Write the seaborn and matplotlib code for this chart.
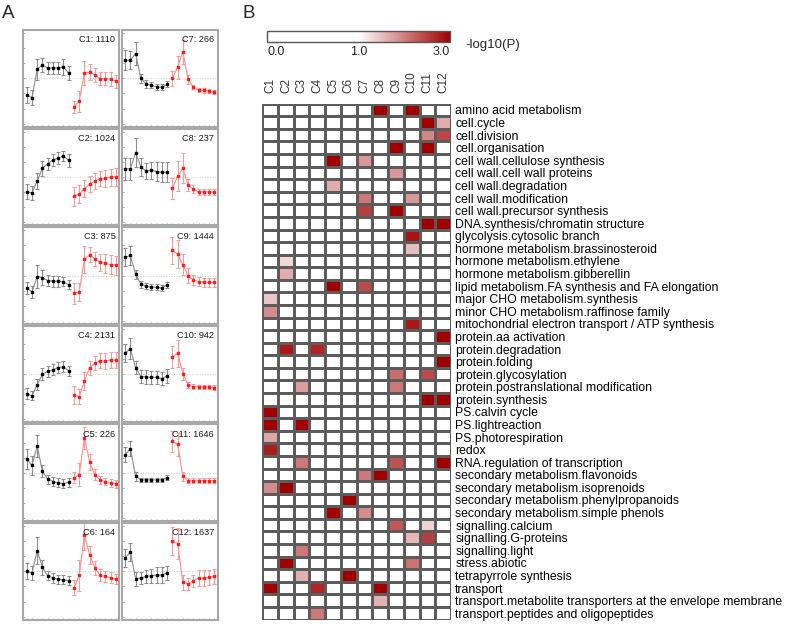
import numpy as np
import pandas as pd
import matplotlib
matplotlib.use("Agg")
import matplotlib.pyplot as plt
from matplotlib.colors import LinearSegmentedColormap, TwoSlopeNorm
import seaborn as sns

# ---- panel A: cluster expression profiles ----
clusters = ["C1", "C2", "C3", "C4", "C5", "C6", "C7", "C8", "C9", "C10", "C11", "C12"]
cluster_sizes = [1110, 1024, 875, 2131, 226, 164, 266, 237, 1444, 942, 1646, 1637]
time_black = [1, 2, 3, 4, 5, 6, 7, 8, 9]
time_red = [10, 11, 12, 13, 14, 15, 16, 17, 18]

black_mean = [
    [-1.1, -1.27, 0.6, 0.89, 0.67, 0.69, 0.69, 0.75, 0.35],
    [-0.98, -1.07, -0.27, 0.58, 0.87, 1.13, 1.24, 1.4, 1.09],
    [-0.84, -1.07, -0.07, -0.13, -0.33, -0.38, -0.38, -0.42, -0.6],
    [-1.29, -1.44, -0.69, 0.0, 0.18, 0.29, 0.44, 0.49, 0.22],
    [0.89, 0.49, 1.76, 0.09, -0.42, -0.58, -0.67, -0.73, -0.62],
    [0.02, -0.11, 1.36, 0.27, -0.29, -0.44, -0.53, -0.56, -0.62],
    [1.2, 1.2, 1.64, 0.0, -0.36, -0.47, -0.56, -0.58, -0.4],
    [0.53, 0.53, 1.6, 0.67, 0.4, 0.44, 0.36, 0.31, 0.31],
    [1.2, 1.33, 0.09, -0.58, -0.71, -0.76, -0.78, -0.82, -0.62],
    [1.4, 1.67, 0.44, -0.16, -0.18, -0.22, -0.22, -0.29, -0.11],
    [1.2, 1.6, -0.22, -0.47, -0.47, -0.47, -0.47, -0.47, -0.33],
    [0.87, 1.29, -0.49, -0.44, -0.33, -0.29, -0.24, -0.24, -0.11],
]
black_sd = [
    [0.55, 0.52, 0.7, 0.47, 0.38, 0.4, 0.4, 0.5, 0.45],
    [0.5, 0.45, 0.5, 0.5, 0.4, 0.4, 0.4, 0.35, 0.45],
    [0.4, 0.4, 0.75, 0.5, 0.35, 0.35, 0.35, 0.3, 0.3],
    [0.35, 0.3, 0.35, 0.4, 0.35, 0.35, 0.35, 0.35, 0.35],
    [0.65, 0.65, 0.75, 0.4, 0.3, 0.3, 0.3, 0.3, 0.3],
    [0.5, 0.45, 0.9, 0.5, 0.3, 0.3, 0.3, 0.3, 0.3],
    [0.65, 0.6, 0.75, 0.3, 0.25, 0.2, 0.2, 0.2, 0.2],
    [0.75, 0.75, 0.95, 0.6, 0.55, 0.55, 0.6, 0.65, 0.65],
    [0.6, 0.65, 0.3, 0.25, 0.2, 0.2, 0.2, 0.2, 0.2],
    [0.6, 0.7, 0.45, 0.45, 0.45, 0.45, 0.45, 0.45, 0.45],
    [0.5, 0.5, 0.3, 0.15, 0.15, 0.15, 0.15, 0.15, 0.15],
    [0.6, 0.6, 0.45, 0.4, 0.45, 0.45, 0.5, 0.5, 0.45],
]
red_mean = [
    [-1.89, -1.51, 0.35, 0.42, 0.22, -0.02, -0.02, -0.06, -0.2],
    [-1.29, -1.13, -0.78, -0.47, -0.27, -0.11, -0.09, -0.02, 0.0],
    [-1.16, -1.07, 1.07, 1.38, 1.11, 0.87, 0.8, 0.73, 0.67],
    [-1.4, -1.49, -0.44, 0.42, 0.73, 0.89, 0.87, 0.93, 0.93],
    [-0.33, -0.13, 2.31, 0.71, -0.13, -0.47, -0.58, -0.67, -0.73],
    [-1.09, -0.27, 2.42, 1.07, 0.24, -0.27, -0.33, -0.42, -0.51],
    [0.0, 0.73, 1.76, -0.07, -0.56, -0.78, -0.8, -0.84, -0.91],
    [-0.76, 0.04, 0.58, -0.51, -0.8, -0.98, -0.98, -0.98, -1.02],
    [1.67, 1.42, 0.71, -0.02, -0.29, -0.4, -0.44, -0.44, -0.44],
    [1.13, 1.38, 0.04, -0.71, -0.82, -0.84, -0.84, -0.84, -0.89],
    [2.09, 1.87, -0.22, -0.53, -0.53, -0.53, -0.53, -0.53, -0.53],
    [2.0, 1.84, -0.71, -0.82, -0.64, -0.44, -0.44, -0.4, -0.33],
]
red_sd = [
    [0.41, 0.69, 0.78, 0.52, 0.44, 0.45, 0.45, 0.45, 0.45],
    [0.6, 0.6, 0.55, 0.5, 0.5, 0.5, 0.55, 0.55, 0.6],
    [0.7, 0.6, 0.9, 0.5, 0.45, 0.55, 0.6, 0.65, 0.65],
    [0.6, 0.5, 0.6, 0.45, 0.45, 0.5, 0.5, 0.55, 0.55],
    [0.35, 0.75, 0.75, 0.5, 0.35, 0.25, 0.25, 0.25, 0.25],
    [0.5, 1.0, 1.0, 0.6, 0.45, 0.4, 0.35, 0.35, 0.35],
    [0.5, 0.75, 0.8, 0.3, 0.15, 0.15, 0.15, 0.15, 0.15],
    [0.7, 1.0, 1.0, 0.4, 0.25, 0.2, 0.2, 0.2, 0.2],
    [0.9, 0.9, 0.7, 0.5, 0.35, 0.3, 0.3, 0.3, 0.3],
    [0.7, 0.9, 0.4, 0.2, 0.15, 0.15, 0.15, 0.15, 0.15],
    [0.7, 0.75, 0.3, 0.15, 0.15, 0.15, 0.15, 0.15, 0.15],
    [0.95, 1.0, 0.5, 0.4, 0.4, 0.5, 0.5, 0.5, 0.5],
]

# ---- panel B: enrichment -log10(P) per pathway and cluster ----
pathways = [
    "amino acid metabolism", "cell.cycle", "cell.division", "cell.organisation",
    "cell wall.cellulose synthesis", "cell wall.cell wall proteins",
    "cell wall.degradation", "cell wall.modification", "cell wall.precursor synthesis",
    "DNA.synthesis/chromatin structure", "glycolysis.cytosolic branch",
    "hormone metabolism.brassinosteroid", "hormone metabolism.ethylene",
    "hormone metabolism.gibberellin", "lipid metabolism.FA synthesis and FA elongation",
    "major CHO metabolism.synthesis", "minor CHO metabolism.raffinose family",
    "mitochondrial electron transport / ATP synthesis", "protein.aa activation",
    "protein.degradation", "protein.folding", "protein.glycosylation",
    "protein.postranslational modification", "protein.synthesis", "PS.calvin cycle",
    "PS.lightreaction", "PS.photorespiration", "redox", "RNA.regulation of transcription",
    "secondary metabolism.flavonoids", "secondary metabolism.isoprenoids",
    "secondary metabolism.phenylpropanoids", "secondary metabolism.simple phenols",
    "signalling.calcium", "signalling.G-proteins", "signalling.light", "stress.abiotic",
    "tetrapyrrole synthesis", "transport",
    "transport.metabolite transporters at the envelope membrane",
    "transport.peptides and oligopeptides",
]
#        C1    C2    C3    C4    C5    C6    C7    C8    C9    C10   C11   C12
logp = [
    [0,    0,    0,    0,    0,    0,    0,    3.0,  0,    3.0,  0,    0],
    [0,    0,    0,    0,    0,    0,    0,    0,    0,    0,    3.0,  1.65],
    [0,    0,    0,    0,    0,    0,    0,    0,    0,    0,    1.95, 2.45],
    [0,    0,    0,    0,    0,    0,    0,    0,    3.0,  0,    3.0,  0],
    [0,    0,    0,    0,    3.0,  0,    1.8,  0,    0,    0,    0,    0],
    [0,    0,    0,    0,    0,    0,    0,    0,    1.8,  0,    0,    0],
    [0,    0,    0,    0,    1.65, 0,    0,    0,    0,    0,    0,    0],
    [0,    0,    0,    0,    0,    0,    2.05, 0,    0,    1.8,  0,    0],
    [0,    0,    0,    0,    0,    0,    2.5,  0,    3.0,  0,    0,    0],
    [0,    0,    0,    0,    0,    0,    0,    0,    0,    0,    3.0,  3.0],
    [0,    0,    0,    0,    0,    0,    0,    0,    0,    2.85, 0,    0],
    [0,    0,    0,    0,    0,    0,    0,    0,    0,    1.5,  0,    0],
    [0,    1.3,  0,    0,    0,    0,    0,    0,    0,    0,    0,    0],
    [0,    1.65, 0,    0,    0,    0,    0,    0,    0,    0,    0,    0],
    [0,    0,    0,    0,    3.0,  0,    2.4,  0,    0,    0,    0,    0],
    [1.45, 0,    0,    0,    0,    0,    0,    0,    0,    0,    0,    0],
    [1.9,  0,    0,    0,    0,    0,    0,    0,    0,    0,    0,    0],
    [0,    0,    0,    0,    0,    0,    0,    0,    0,    2.8,  0,    0],
    [0,    0,    0,    0,    0,    0,    0,    0,    0,    0,    0,    3.0],
    [0,    2.8,  0,    2.7,  0,    0,    0,    0,    0,    0,    0,    0],
    [0,    0,    0,    0,    0,    0,    0,    0,    0,    0,    0,    3.0],
    [0,    0,    0,    0,    0,    0,    0,    0,    2.15, 0,    2.4,  0],
    [0,    0,    1.75, 0,    0,    0,    0,    0,    2.05, 0,    0,    0],
    [0,    0,    0,    0,    0,    0,    0,    0,    0,    0,    3.0,  3.0],
    [3.0,  0,    0,    0,    0,    0,    0,    0,    0,    0,    0,    0],
    [3.0,  0,    3.0,  0,    0,    0,    0,    0,    0,    0,    0,    0],
    [1.7,  0,    0,    0,    0,    0,    0,    0,    0,    0,    0,    0],
    [2.75, 0,    0,    0,    0,    0,    0,    0,    0,    0,    0,    0],
    [0,    0,    2.05, 0,    0,    0,    0,    0,    2.35, 0,    0,    3.0],
    [0,    0,    0,    0,    0,    0,    2.05, 3.0,  0,    0,    0,    0],
    [1.9,  3.0,  0,    0,    0,    0,    0,    0,    0,    0,    0,    0],
    [0,    0,    0,    0,    0,    3.0,  0,    0,    0,    0,    0,    0],
    [0,    0,    0,    0,    3.0,  0,    1.9,  0,    0,    0,    0,    0],
    [0,    0,    0,    0,    0,    0,    0,    0,    2.3,  0,    1.35, 0],
    [0,    0,    0,    0,    0,    0,    0,    0,    0,    1.55, 2.5,  0],
    [0,    0,    2.05, 0,    0,    0,    0,    0,    0,    0,    0,    0],
    [0,    3.0,  0,    0,    0,    0,    0,    0,    0,    2.1,  0,    0],
    [0,    0,    1.6,  0,    0,    3.0,  0,    0,    0,    0,    0,    0],
    [3.0,  0,    0,    2.7,  0,    0,    0,    3.0,  0,    0,    0,    0],
    [0,    0,    0,    0,    0,    0,    0,    1.6,  0,    0,    0,    0],
    [0,    0,    0,    2.05, 0,    0,    0,    0,    0,    0,    0,    0],
]

sns.set_style("white")
plt.rcParams["font.family"] = ["Liberation Sans", "DejaVu Sans"]

W, H = 787, 624
fig = plt.figure(figsize=(W / 100, H / 100), dpi=100)

def px_box(x0, y0, w, h):
    # pixel box (top-left origin) -> figure fraction
    return [x0 / W, 1 - (y0 + h) / H, w / W, h / H]

# panel A
for i, name in enumerate(clusters):
    col, row = i // 6, i % 6
    ax = fig.add_axes(px_box(23.3 + col * 98.4, 30 + row * 98.6, 96, 96.7))
    ax.axhline(0, color="#cccccc", lw=0.7, ls=":", zorder=0)
    sns.lineplot(x=time_black, y=black_mean[i], ax=ax, color="#8c8c8c", lw=0.8)
    sns.lineplot(x=time_red, y=red_mean[i], ax=ax, color="#ff8a8a", lw=0.8)
    ax.errorbar(time_black, black_mean[i], yerr=black_sd[i], fmt="s", ms=1.8,
                color="black", ecolor="#8c8c8c", elinewidth=0.8, capsize=1.6, capthick=0.8)
    ax.errorbar(time_red, red_mean[i], yerr=red_sd[i], fmt="s", ms=1.8,
                color="#ff1a1a", ecolor="#ff9a9a", elinewidth=0.8, capsize=1.6, capthick=0.8)
    ax.set_xlim(0.35, 18.65)
    ax.set_ylim(-3.2, 3.2)
    ax.set_xticks(range(1, 19))
    ax.set_yticks(range(-3, 4))
    ax.set_xticklabels([])
    ax.set_yticklabels([])
    ax.tick_params(direction="in", length=1.5, width=0.6, color="#999999",
                   bottom=True, left=True)
    for sp in ax.spines.values():
        sp.set_visible(True)
        sp.set_color("#a8a8a8")
        sp.set_linewidth(1.5)
    ax.set_xlabel("")
    ax.set_ylabel("")
    ax.text(0.96, 0.9, f"{name}: {cluster_sizes[i]}", transform=ax.transAxes,
            ha="right", va="center", fontsize=6.6, color="#1a1a1a")

fig.text(2 / W, 1 - 13 / H, "A", fontsize=13.5, va="center", ha="left")
fig.text(243 / W, 1 - 13 / H, "B", fontsize=13.5, va="center", ha="left")

# panel B heatmap
df = pd.DataFrame(logp, index=pathways, columns=clusters)
cmap = LinearSegmentedColormap.from_list(
    "white_red", [(0.0, "white"), (0.5, "white"), (1.0, "#a00000")])
norm = TwoSlopeNorm(vmin=0, vcenter=1, vmax=3)

hax = fig.add_axes(px_box(262.3, 103.7, 188.7, 515.8))
sns.heatmap(df, ax=hax, cmap=cmap, norm=norm, cbar=False,
            linewidths=0.85, linecolor="#5c5c5c")
hax.xaxis.tick_top()
hax.yaxis.tick_right()
hax.set_xticks(np.arange(len(clusters)) + 0.5)
hax.set_xticklabels(clusters, rotation=90, fontsize=8.5, color="#333333")
hax.set_yticks(np.arange(len(pathways)) + 0.5)
hax.set_yticklabels(pathways, rotation=0, ha="left", fontsize=8.8, color="black")
hax.tick_params(axis="x", length=0, pad=7.5)
hax.tick_params(axis="y", length=0, pad=3)
hax.set_xlabel("")
hax.set_ylabel("")

# colour bar
cax = fig.add_axes(px_box(267, 31, 183, 10.5))
cb = fig.colorbar(hax.collections[0], cax=cax, orientation="horizontal")
cb.set_ticks([0, 1, 3])
cb.set_ticklabels(["0.0", "1.0", "3.0"])
cax.tick_params(length=0, pad=3, labelsize=9)
labels = cax.get_xticklabels()
labels[0].set_ha("left")
labels[-1].set_ha("right")
cb.outline.set_edgecolor("#555555")
cb.outline.set_linewidth(1.0)
fig.text(465 / W, 1 - 45 / H, "-log10(P)", fontsize=9.5, va="center", ha="left")

fig.savefig("out.png", dpi=100)
